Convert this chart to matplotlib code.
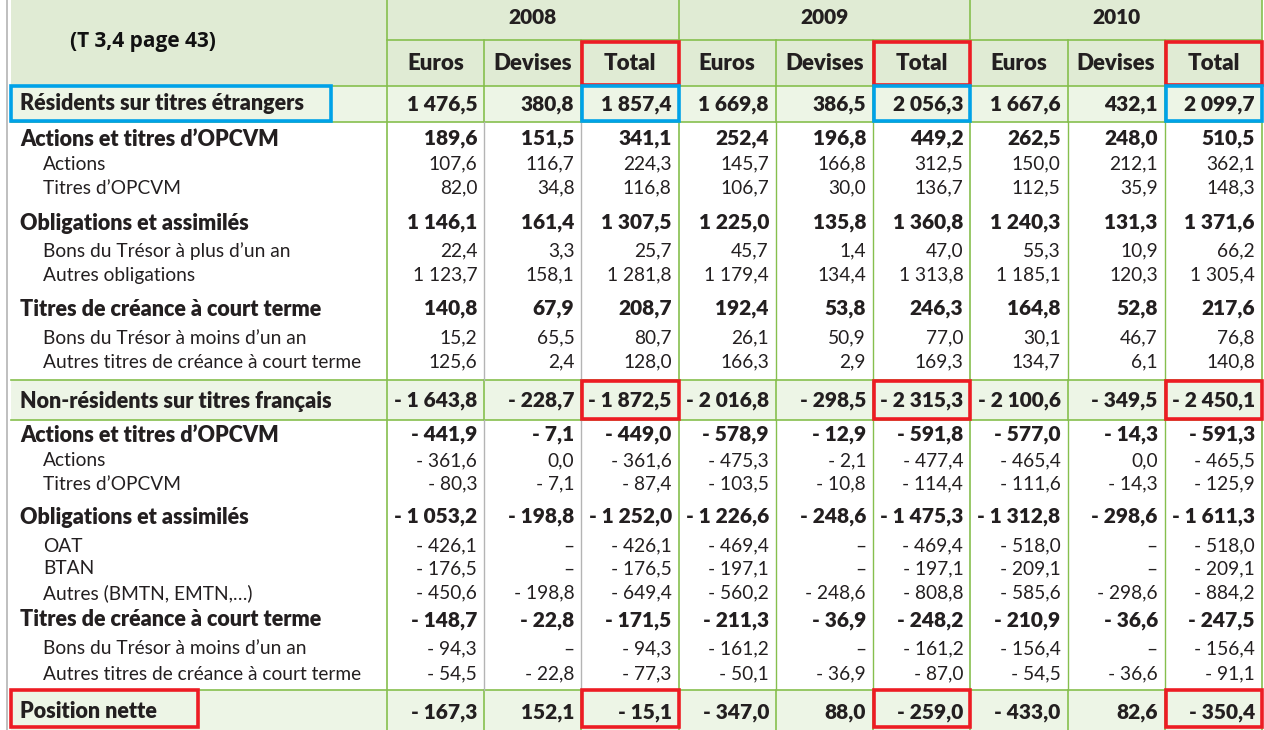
import matplotlib
matplotlib.use("Agg")
import matplotlib.pyplot as plt
from matplotlib.patches import Rectangle

# ---------------- data ----------------
years = ["2008", "2009", "2010"]
subheads = ["Euros", "Devises", "Total"]
title_note = "(T 3,4 page 43)"

row_labels = [
    "Résidents sur titres étrangers",
    "Actions et titres d’OPCVM",
    "Actions",
    "Titres d’OPCVM",
    "Obligations et assimilés",
    "Bons du Trésor à plus d’un an",
    "Autres obligations",
    "Titres de créance à court terme",
    "Bons du Trésor à moins d’un an",
    "Autres titres de créance à court terme",
    "Non-résidents sur titres français",
    "Actions et titres d’OPCVM",
    "Actions",
    "Titres d’OPCVM",
    "Obligations et assimilés",
    "OAT",
    "BTAN",
    "Autres (BMTN, EMTN,…)",
    "Titres de créance à court terme",
    "Bons du Trésor à moins d’un an",
    "Autres titres de créance à court terme",
    "Position nette",
]
# 's' = section (shaded), 'b' = bold subtotal, 'n' = normal detail line
row_kinds = ["s", "b", "n", "n", "b", "n", "n", "b", "n", "n",
             "s", "b", "n", "n", "b", "n", "n", "n", "b", "n", "n", "s"]

vals_2008 = [
    [1476.5, 380.8, 1857.4], [189.6, 151.5, 341.1], [107.6, 116.7, 224.3],
    [82.0, 34.8, 116.8], [1146.1, 161.4, 1307.5], [22.4, 3.3, 25.7],
    [1123.7, 158.1, 1281.8], [140.8, 67.9, 208.7], [15.2, 65.5, 80.7],
    [125.6, 2.4, 128.0], [-1643.8, -228.7, -1872.5], [-441.9, -7.1, -449.0],
    [-361.6, 0.0, -361.6], [-80.3, -7.1, -87.4], [-1053.2, -198.8, -1252.0],
    [-426.1, None, -426.1], [-176.5, None, -176.5], [-450.6, -198.8, -649.4],
    [-148.7, -22.8, -171.5], [-94.3, None, -94.3], [-54.5, -22.8, -77.3],
    [-167.3, 152.1, -15.1],
]
vals_2009 = [
    [1669.8, 386.5, 2056.3], [252.4, 196.8, 449.2], [145.7, 166.8, 312.5],
    [106.7, 30.0, 136.7], [1225.0, 135.8, 1360.8], [45.7, 1.4, 47.0],
    [1179.4, 134.4, 1313.8], [192.4, 53.8, 246.3], [26.1, 50.9, 77.0],
    [166.3, 2.9, 169.3], [-2016.8, -298.5, -2315.3], [-578.9, -12.9, -591.8],
    [-475.3, -2.1, -477.4], [-103.5, -10.8, -114.4], [-1226.6, -248.6, -1475.3],
    [-469.4, None, -469.4], [-197.1, None, -197.1], [-560.2, -248.6, -808.8],
    [-211.3, -36.9, -248.2], [-161.2, None, -161.2], [-50.1, -36.9, -87.0],
    [-347.0, 88.0, -259.0],
]
vals_2010 = [
    [1667.6, 432.1, 2099.7], [262.5, 248.0, 510.5], [150.0, 212.1, 362.1],
    [112.5, 35.9, 148.3], [1240.3, 131.3, 1371.6], [55.3, 10.9, 66.2],
    [1185.1, 120.3, 1305.4], [164.8, 52.8, 217.6], [30.1, 46.7, 76.8],
    [134.7, 6.1, 140.8], [-2100.6, -349.5, -2450.1], [-577.0, -14.3, -591.3],
    [-465.4, 0.0, -465.5], [-111.6, -14.3, -125.9], [-1312.8, -298.6, -1611.3],
    [-518.0, None, -518.0], [-209.1, None, -209.1], [-585.6, -298.6, -884.2],
    [-210.9, -36.6, -247.5], [-156.4, None, -156.4], [-54.5, -36.6, -91.1],
    [-433.0, 82.6, -350.4],
]
year_values = [vals_2008, vals_2009, vals_2010]


def fmt(v):
    if v is None:
        return "–"
    a = f"{abs(v):,.1f}".replace(",", " ").replace(".", ",")
    return ("- " + a) if v < 0 else a


# ---------------- layout ----------------
W, H = 1264, 730
FONT = "Lato"
GREEN = "#86bf4e"
GRAY = "#b4b4b4"
HEAD_FILL = "#e0ebd4"
SEC_FILL = "#edf5e6"
RED = "#ed1c24"
BLUE = "#00a2e8"
TXT = "#231f20"

BOLD_FS = 15.5
BOLD_NUM_FS = 15
NORM_FS = 13.8
BOLD_W = "heavy"

left_edge = 11
label_right = 387
col_w = (1262 - label_right) / 9.0
col_edges = [label_right + i * col_w for i in range(10)]

row_y = [104, 139, 164, 188, 223, 251, 275, 309, 338, 362,
         401, 435, 461, 484, 517, 546, 569, 593, 620, 649, 674, 712]
sec_bands = {0: (86, 122), 10: (380, 420), 21: (690, 730)}

fig = plt.figure(figsize=(W / 100, H / 100), dpi=100)
ax = fig.add_axes([0, 0, 1, 1])
ax.set_xlim(0, W)
ax.set_ylim(H, 0)
ax.axis("off")

# backgrounds
ax.add_patch(Rectangle((left_edge, 0), 1262 - left_edge, 86, facecolor=HEAD_FILL, edgecolor="none"))
for i, (y0, y1) in sec_bands.items():
    ax.add_patch(Rectangle((left_edge, y0), 1262 - left_edge, y1 - y0, facecolor=SEC_FILL, edgecolor="none"))

# outer left gray line
ax.plot([7, 7], [0, H], color=GRAY, lw=1.2)

# horizontal lines
ax.plot([label_right, 1262], [40, 40], color=GREEN, lw=1.2)
for y in [86, 122, 380, 420, 690]:
    ax.plot([left_edge, 1262], [y, y], color=GREEN, lw=1.2)

# vertical lines
for k, x in enumerate(col_edges):
    if k % 3 == 0:
        ax.plot([x, x], [0, H], color=GREEN, lw=1.2)
    else:
        ax.plot([x, x], [40, 86], color=GREEN, lw=1.2)
        for (a, b) in [(86, 122), (380, 420), (690, 730)]:
            ax.plot([x, x], [a, b], color=GREEN, lw=1.2)
        c = GRAY if k < 3 else GREEN
        for (a, b) in [(122, 380), (420, 690)]:
            ax.plot([x, x], [a, b], color=c, lw=1.0)

# header texts
ax.text(143, 42, title_note, ha="center", va="center", fontsize=15,
        fontweight="bold", family=["Open Sans", "DejaVu Sans"], color="#111111")
for j, yr in enumerate(years):
    xc = (col_edges[3 * j] + col_edges[3 * j + 3]) / 2
    ax.text(xc, 18, yr, ha="center", va="center", fontsize=15,
            fontweight=BOLD_W, family=FONT, color=TXT)
    for s, sh in enumerate(subheads):
        k = 3 * j + s
        xc = (col_edges[k] + col_edges[k + 1]) / 2
        ax.text(xc, 64, sh, ha="center", va="center", fontsize=16,
                fontweight=BOLD_W, family=FONT, color=TXT)

# rows
for i, (lab, kind) in enumerate(zip(row_labels, row_kinds)):
    y = row_y[i]
    bold = kind in ("s", "b")
    x = 20 if bold else 43
    fs = BOLD_FS if bold else NORM_FS
    nfs = BOLD_NUM_FS if bold else NORM_FS
    fw = BOLD_W if bold else "normal"
    ax.text(x, y, lab, ha="left", va="center", fontsize=fs,
            fontweight=fw, family=FONT, color=TXT)
    for j in range(3):
        for s in range(3):
            k = 3 * j + s
            v = year_values[j][i][s]
            ax.text(col_edges[k + 1] - 7, y, fmt(v), ha="right", va="center",
                    fontsize=nfs, fontweight=fw, family=FONT, color=TXT)

# highlight boxes
def box(x0, y0, x1, y1, color):
    ax.add_patch(Rectangle((x0, y0), x1 - x0, y1 - y0, fill=False,
                           edgecolor=color, lw=2.6, zorder=5))

for j in range(3):
    x0 = col_edges[3 * j + 2]
    x1 = col_edges[3 * j + 3]
    box(x0 + 1, 42, x1, 85, RED)
    box(x0 + 1, 86, x1, 121, BLUE)
    box(x0 + 1, 381, x1, 419, RED)
    box(x0 + 1, 690, x1, 727, RED)
box(11, 86, 331, 121, BLUE)
box(11, 690, 198, 727, RED)

fig.savefig("out.png", dpi=100)
